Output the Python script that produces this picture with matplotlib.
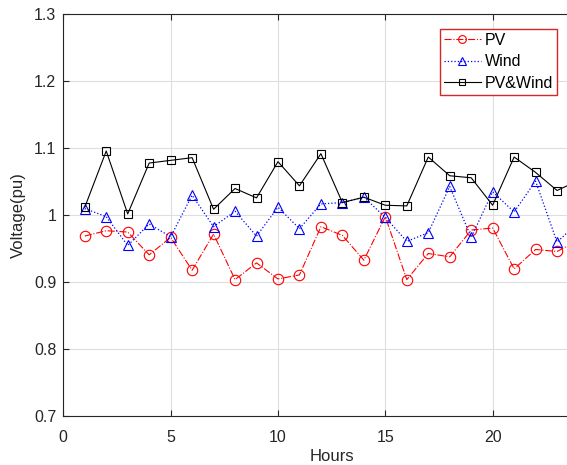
import numpy as np
import matplotlib
matplotlib.use("Agg")
import matplotlib.pyplot as plt

# voltage profiles
hours = list(range(1, 25))
pv = [0.969, 0.977, 0.975, 0.941, 0.967, 0.918, 0.972, 0.904, 0.929, 0.905, 0.911, 0.983,
      0.970, 0.933, 0.998, 0.904, 0.943, 0.938, 0.978, 0.981, 0.920, 0.949, 0.946, 0.963]
wind = [1.010, 0.998, 0.955, 0.987, 0.968, 1.030, 0.983, 1.006, 0.969, 1.012, 0.980, 1.017,
        1.019, 1.027, 0.997, 0.961, 0.974, 1.043, 0.967, 1.035, 1.005, 1.051, 0.960, 0.990]
pv_wind = [1.012, 1.096, 1.002, 1.078, 1.082, 1.086, 1.009, 1.040, 1.026, 1.080, 1.044, 1.092,
           1.019, 1.027, 1.015, 1.014, 1.087, 1.059, 1.056, 1.015, 1.087, 1.064, 1.037, 1.052]

plt.rcParams['font.family'] = ['Liberation Sans', 'DejaVu Sans']
dark = '#262626'

fig = plt.figure(figsize=(5.67, 4.65), dpi=100)
# the original axes runs past the right edge of the picture
ax = fig.add_axes([63.3 / 567, 1 - 416.3 / 465, 536.7 / 567, 402 / 465])

ax.plot(hours, pv, color='red', linestyle='-.', linewidth=0.8, marker='o',
        markersize=7.5, markerfacecolor='none', markeredgewidth=0.8, label='PV')
ax.plot(hours, wind, color='blue', linestyle=':', linewidth=0.9, marker='^',
        markersize=7.5, markerfacecolor='none', markeredgewidth=0.8, label='Wind')
ax.plot(hours, pv_wind, color='black', linestyle='-', linewidth=0.8, marker='s',
        markersize=6, markerfacecolor='none', markeredgewidth=0.8, label='PV&Wind')

ax.set_xlim(0, 25)
ax.set_ylim(0.7, 1.3)
ax.set_xticks([0, 5, 10, 15, 20])
ax.set_yticks([0.7, 0.8, 0.9, 1.0, 1.1, 1.2, 1.3])
ax.set_yticklabels(['0.7', '0.8', '0.9', '1', '1.1', '1.2', '1.3'])
ax.grid(True, color='#dedede', linewidth=0.8)
ax.tick_params(direction='in', top=True, right=True, colors=dark, labelsize=11.5,
               length=4, width=0.8)
ax.tick_params(axis='x', pad=10)
ax.tick_params(axis='y', pad=5)
for s in ax.spines.values():
    s.set_color(dark)
    s.set_linewidth(0.8)

ax.set_xlabel('Hours', fontsize=12, color=dark, labelpad=3)
ax.set_ylabel('Voltage(pu)', fontsize=12, color=dark, labelpad=6)

leg = ax.legend(loc='upper right', bbox_to_anchor=(557 / 567, 1 - 29 / 465),
                bbox_transform=fig.transFigure, borderaxespad=0, fontsize=11.5,
                fancybox=False, framealpha=1, handlelength=2.3, handletextpad=0.25,
                labelspacing=0.4, borderpad=0.25, markerscale=0.75)
leg.get_frame().set_edgecolor('#d62728')
leg.get_frame().set_linewidth(1.0)

fig.savefig('out.png', dpi=100)
